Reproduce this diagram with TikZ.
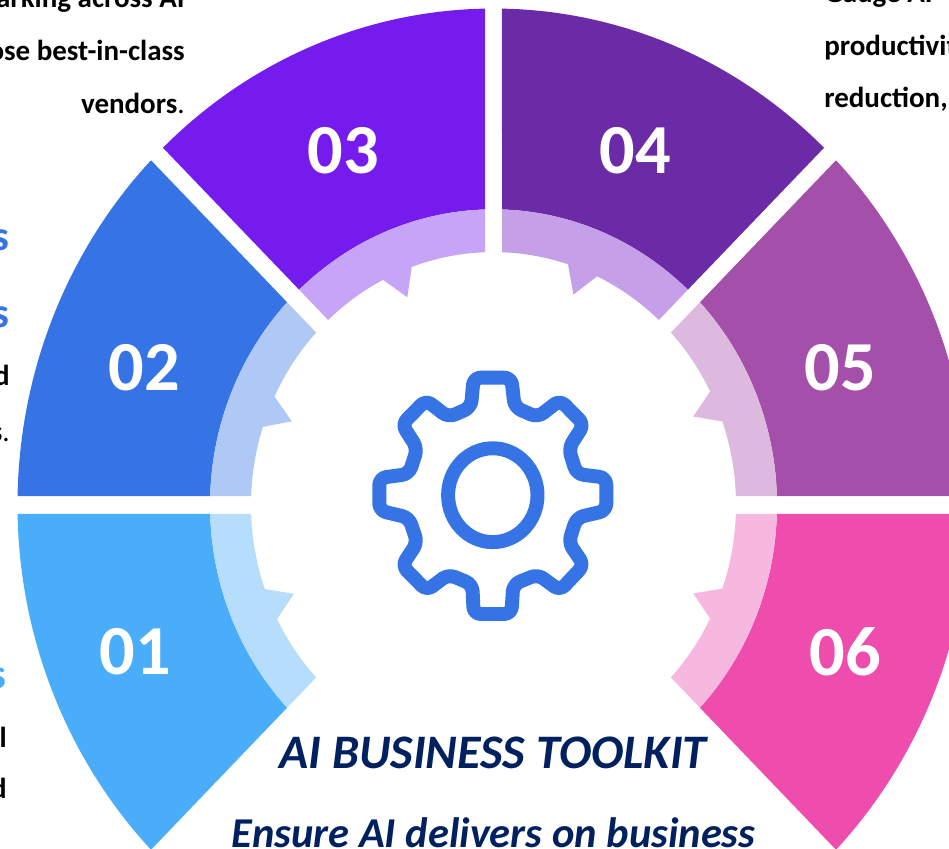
\documentclass[tikz,border=0pt]{standalone}
\usepackage{fontspec}
\setmainfont{Carlito}
\definecolor{navy}{HTML}{002060}
\definecolor{gearblue}{HTML}{3674E5}
\definecolor{skyblue}{HTML}{4AADFA}
\definecolor{bluetwo}{HTML}{3674E5}
\definecolor{violet}{HTML}{751BEE}
\definecolor{grape}{HTML}{6C2BA6}
\definecolor{orchid}{HTML}{A44FA9}
\definecolor{hotpink}{HTML}{EF4DAE}
\definecolor{skyring}{HTML}{B7DDFD}
\definecolor{bluering}{HTML}{AFC8F5}
\definecolor{violetring}{HTML}{C6A5F8}
\definecolor{graperring}{HTML}{C5A0E8}
\definecolor{orchidring}{HTML}{DDB9E0}
\definecolor{pinkring}{HTML}{F6B8DF}
\tikzset{
	seglabel/.style={text=white,font=\fontsize{40}{40}\selectfont\bfseries,inner sep=0pt},
	sidetext/.style={font=\fontsize{16.5}{16.5}\selectfont\bfseries,inner sep=0pt,text=black},
	headtext/.style={font=\fontsize{24}{24}\selectfont\bfseries,inner sep=0pt},
	titletext/.style={text=navy,font=\bfseries\itshape,inner sep=0pt}
}
\begin{document}
\begin{tikzpicture}[x=0.02cm,y=-0.02cm]
\useasboundingbox (0,0) rectangle (949,848);
\clip (0,0) rectangle (949,848);
\begin{scope}[shift={(493.5,505)},yscale=-1.043]
\foreach \a/\t/\c/\r in {180/203.1/skyblue/skyring,135/158.3/bluetwo/bluering,90/113.4/violet/violetring,45/68.4/grape/graperring,0/23/orchid/orchidring,-45/-23/hotpink/pinkring}{
	\fill[\c] ({\a+1.02}:476) arc ({\a+1.02}:{\a+45-1.02}:476) -- ({\a+45-1.72}:283.5) arc ({\a+45-1.72}:{\a+1.72}:283.5) -- cycle;
	\fill[\r] ({\a+1.72}:283.5) arc ({\a+1.72}:{\a+45-1.72}:283.5) -- ({\a+45-2.01}:242.5) arc ({\a+45-2.01}:{\t+3.7}:242.5) -- (\t:217) -- ({\t-3.7}:242.5) arc ({\t-3.7}:{\a+2.01}:242.5) -- cycle;
}
\draw[gearblue,line width=14*0.5669pt] (-0.7,9.4) ellipse (44.7 and 45);
\end{scope}
\begin{scope}[shift={(360,360)},scale=0.3333]
\draw[gearblue,line width=14*0.5669pt,line join=round,rounded corners=4pt] (398,53) -- (341,53) -- (333,142) -- (265,172) -- (198,120) -- (126,193) -- (172,265) -- (147,342) -- (58,354) -- (58,452) -- (147,473) -- (172,548) -- (126,617) -- (200,692) -- (265,643) -- (337,673) -- (341,762) -- (454,762) -- (460,673) -- (533,643) -- (600,692) -- (672,615) -- (626,548) -- (650,473) -- (739,452) -- (739,353) -- (650,342) -- (626,265) -- (672,193) -- (600,120) -- (533,172) -- (464,142) -- (454,53) -- cycle;
\end{scope}
\node[seglabel] (num01) at (135,652) {01};
\node[seglabel] (num02) at (144,368) {02};
\node[seglabel] (num03) at (343,151) {03};
\node[seglabel] (num04) at (635,151) {04};
\node[seglabel] (num05) at (840,368) {05};
\node[seglabel] (num06) at (845,652) {06};
\node[titletext,font=\fontsize{27.4}{27.4}\selectfont\bfseries\itshape,anchor=base] (title) at (493,768) {AI BUSINESS TOOLKIT};
\node[titletext,font=\fontsize{24.2}{24.2}\selectfont\bfseries\itshape,anchor=base] (subtitle) at (493.5,847) {Ensure AI delivers on business};
\node[sidetext,anchor=base east] (lineA) at (185,8) {marking across AI};
\node[sidetext,anchor=base east] (lineB) at (185,61) {ose best-in-class};
\node[sidetext,anchor=base east] (lineC) at (185,113) {vendors{\mdseries .}};
\node[sidetext,anchor=base west] (lineD) at (824,3) {Gauge AI};
\node[sidetext,anchor=base west] (lineE) at (824,56) {productivit};
\node[sidetext,anchor=base west] (lineF) at (824,108) {reduction,};
\node[headtext,text=bluetwo,anchor=base east] (headA) at (10,250) {s};
\node[headtext,text=bluetwo,anchor=base east] (headB) at (10,327) {s};
\node[sidetext,anchor=base east] (lineG) at (10,385) {d};
\node[sidetext,anchor=base east] (lineH) at (10,441) {s{\mdseries .}};
\node[headtext,text=skyblue,anchor=base east] (headC) at (7,688) {s};
\node[sidetext,anchor=base east] (lineI) at (7,747) {l};
\node[sidetext,anchor=base east] (lineJ) at (7,798) {d};
\end{tikzpicture}
\end{document}
